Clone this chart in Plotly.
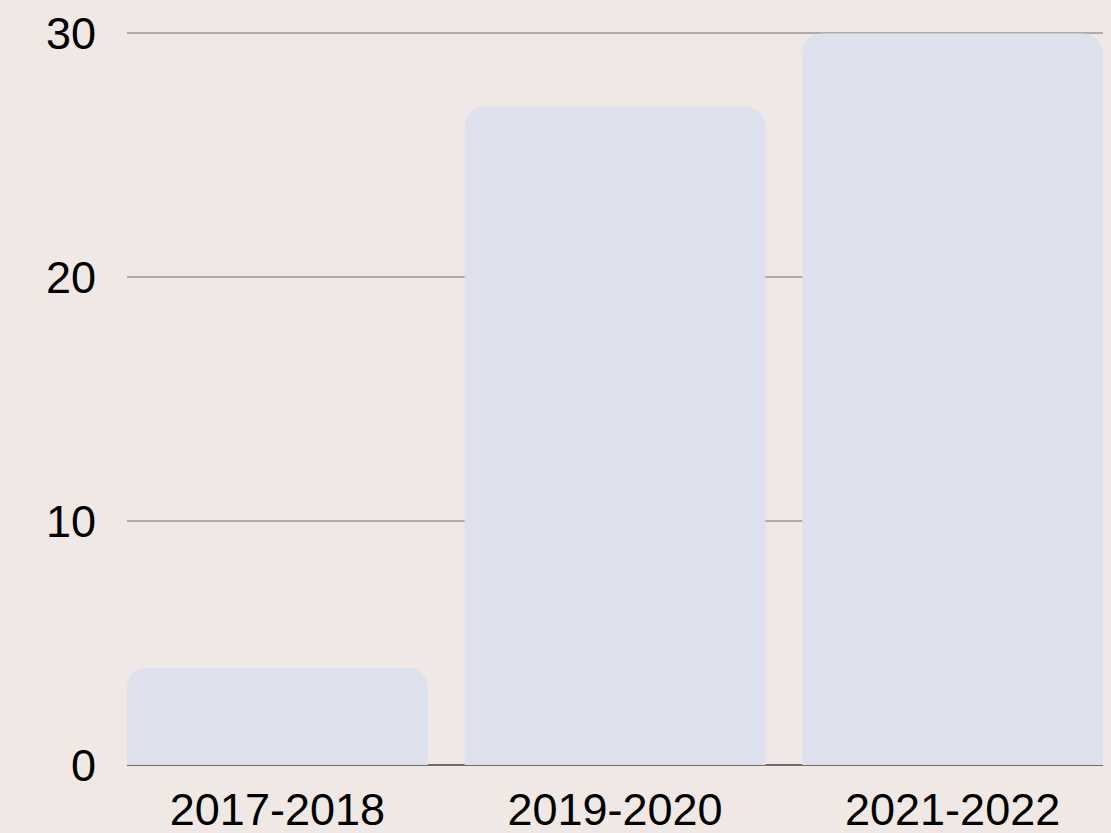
import plotly.graph_objects as go

categories = ["2017-2018", "2019-2020", "2021-2022"]
values = [4, 27, 30]
y_ticks = [0, 10, 20, 30]

bargap = 0.109

fig = go.Figure(
    go.Bar(
        x=categories,
        y=values,
        marker=dict(color="#dde1ed", line=dict(width=0), cornerradius=20),
        hoverinfo="skip",
    )
)

fig.update_layout(
    width=1111,
    height=833,
    margin=dict(l=127, r=8, t=32, b=68, autoexpand=False),
    paper_bgcolor="#efe8e4",
    plot_bgcolor="#efe8e4",
    bargap=bargap,
    showlegend=False,
    font=dict(family="Liberation Sans, Arial, sans-serif", size=45, color="#000000"),
)

fig.update_xaxes(
    range=[-0.5 + bargap / 2, 2.5 - bargap / 2],
    showgrid=False,
    showline=False,
    zeroline=False,
    ticks="",
    ticklabelstandoff=14,
    automargin=False,
    tickfont=dict(size=45),
)

fig.update_yaxes(
    range=[0, 30.06],
    tickvals=y_ticks,
    showgrid=True,
    gridcolor="#b0aba8",
    gridwidth=1.5,
    zeroline=True,
    zerolinecolor="#6f6c6b",
    zerolinewidth=2,
    showline=False,
    ticks="",
    ticklabelstandoff=30,
    automargin=False,
    tickfont=dict(size=45),
)

fig.write_html(
    "out.html",
    config={"displayModeBar": False},
    post_script="document.body.style.margin='0';document.body.style.background='#efe8e4';",
)
